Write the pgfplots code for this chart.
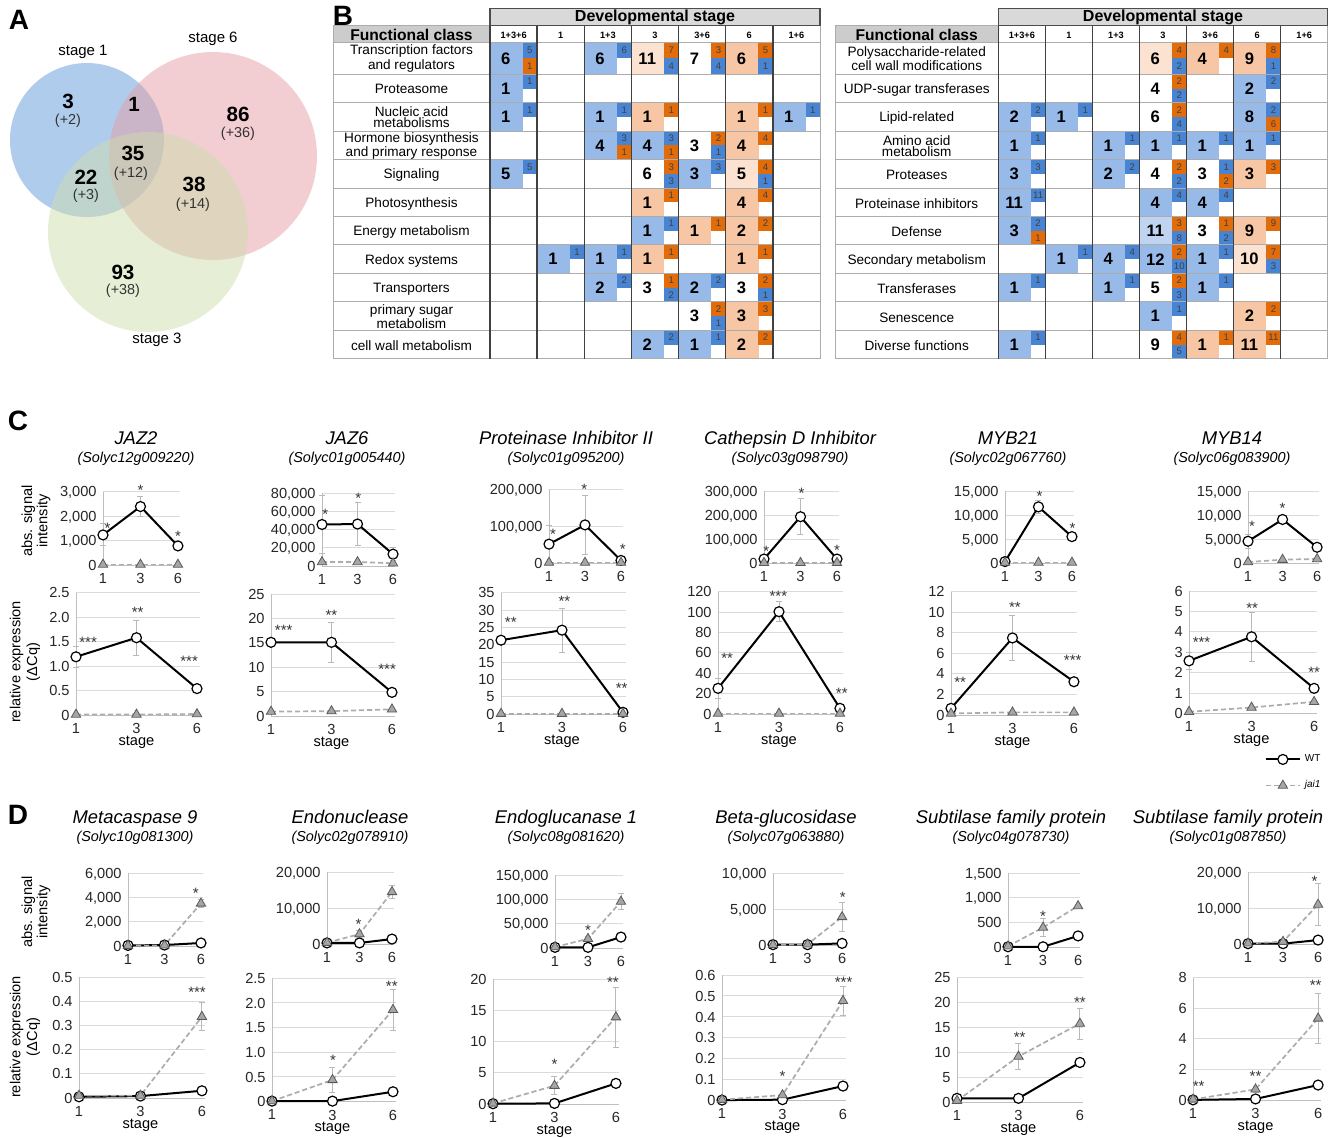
\documentclass[border=0pt]{standalone}
\usepackage{fontspec}
\setmainfont{Liberation Sans}
\usepackage{pgfplots}
\pgfplotsset{compat=1.18}
\newcommand\fsz[1]{\fontsize{#1}{#1}\selectfont}
\definecolor{cB}{RGB}{152,186,232}
\definecolor{cb}{RGB}{192,212,242}
\definecolor{cO}{RGB}{247,199,165}
\definecolor{cL}{RGB}{252,226,208}
\definecolor{sB}{RGB}{72,132,210}
\definecolor{sO}{RGB}{226,107,10}
\definecolor{vB}{RGB}{97,153,217}
\definecolor{vP}{RGB}{229,157,165}
\definecolor{vG}{RGB}{205,221,173}
\pgfdeclareplotmark{cellbg}{\pgfpathrectangle{\pgfpoint{0pt}{-7.11pt}}{\pgfpoint{16.4pt}{14.22pt}}\pgfusepathqfill}
\pgfdeclareplotmark{cellbgz}{\pgfpathrectangle{\pgfpoint{0pt}{-8pt}}{\pgfpoint{16.4pt}{16pt}}\pgfusepathqfill}
\pgfdeclareplotmark{sqm}{\pgfpathrectangle{\pgfpoint{0pt}{-3.555pt}}{\pgfpoint{7.2pt}{7.11pt}}\pgfusepathqfill}
\pgfdeclareplotmark{sqmz}{\pgfpathrectangle{\pgfpoint{0pt}{-4pt}}{\pgfpoint{7.2pt}{8pt}}\pgfusepathqfill}
\pgfdeclareplotmark{disc}{\pgfpathcircle{\pgfpointorigin}{\pgfplotmarksize}\pgfusepathqfill}
\pgfplotsset{
 canvas/.style={scale only axis, hide axis, clip=false, at={(0pt,0pt)}, anchor=north west,
   width=668pt, height=568.5pt, xmin=0, xmax=1336, ymin=0, ymax=1137, y dir=reverse},
 cellnum/.style={only marks, point meta=explicit symbolic, nodes near coords,
   every node near coord/.style={anchor=center, xshift=7.9pt, font=\bfseries\fsz{8.3}, text=black, inner sep=0pt}},
 sqnum/.style={only marks, point meta=explicit symbolic, nodes near coords,
   every node near coord/.style={anchor=center, xshift=3.6pt, font=\fsz{4.8}, text=black!75, inner sep=0pt}},
 mini/.style={scale only axis, clip=false, anchor=south west, xmin=0, xmax=2.05, ymin=0,
   axis lines=left, axis line style={-, gray!50, line width=0.5pt},
   ymajorgrids, grid style={gray!28, line width=0.5pt},
   xtick={0,1,2}, xticklabels={1,3,6}, major tick length=0pt, scaled y ticks=false,
   tick label style={font=\fsz{7.3}, text=black!85, inner sep=0pt, text depth=0pt},
   xticklabel style={yshift=-3.9pt}, yticklabel style={xshift=-3pt},
   /pgf/number format/assume math mode=true},
 wt/.style={black, line width=1pt, mark=*, mark size=2.5pt, mark options={fill=white, draw=black, line width=0.6pt, solid}},
 jai/.style={gray!65, line width=0.85pt, dash pattern=on 2.6pt off 1.4pt, mark=triangle*, mark size=2.7pt, mark options={fill=gray!70, draw=black!65, line width=0.4pt, solid}},
 eb/.style={error bars/y dir=both, error bars/y explicit, error bars/error bar style={gray!55, line width=0.45pt, solid}, error bars/error mark options={rotate=90, mark size=1.5pt, gray!55, line width=0.45pt}},
}
\tikzset{
 ast/.style={font=\fsz{7.5}, text=black!80, inner sep=0pt, yshift=-1.6pt},
 stg/.style={font=\fsz{7.3}, yshift=-13.5pt, inner sep=0pt},
 ttl/.style={font=\itshape\fsz{9.2}, inner sep=0pt, anchor=base},
 sub/.style={font=\itshape\fsz{7.2}, inner sep=0pt, anchor=base},
 rl/.style={align=center, font=\fontsize{6.8}{5.6}\selectfont, inner sep=0pt},
 colh/.style={font=\bfseries\fsz{4.6}, inner sep=0pt},
 vn/.style={font=\bfseries\fsz{10.3}, inner sep=0pt},
 vp/.style={font=\fsz{7.2}, text=black!80, inner sep=0pt},
 pl/.style={font=\bfseries\fsz{14}, inner sep=0pt},
}
\begin{document}
\begin{tikzpicture}
\useasboundingbox (0pt,0pt) rectangle (668pt,-568.5pt);
% ===== layer 1: areas =====
\begin{axis}[canvas]
\addplot[only marks, mark=disc, mark size=38.5pt, color=vB, fill opacity=0.5] coordinates {(87,140)};
\addplot[only marks, mark=disc, mark size=52pt, color=vP, fill opacity=0.5] coordinates {(213,156)};
\addplot[only marks, mark=disc, mark size=50pt, color=vG, fill opacity=0.5] coordinates {(148,232)};
\fill[gray!30] (axis cs:490,8.3) rectangle (axis cs:820,25.7);
\fill[gray!40] (axis cs:333,25.7) rectangle (axis cs:490,42.3);
\fill[gray!30] (axis cs:998.3,8.3) rectangle (axis cs:1327.7,25.7);
\fill[gray!40] (axis cs:835,25.7) rectangle (axis cs:998.3,42.3);
% left table cells
\addplot[cellnum, mark=cellbgz, color=cB] coordinates {(490,58.3)[6] (584.3,58.3)[6]};
\addplot[cellnum, mark=cellbgz, color=cL] coordinates {(631.4,58.3)[11]};
\addplot[cellnum, mark=cellbgz, color=cO] coordinates {(725.7,58.3)[6]};
\addplot[cellnum, mark=cellbgz, color=white] coordinates {(678.6,58.3)[7]};
\addplot[cellnum, mark=cellbg, color=cB] coordinates {(490,88.5)[1] (490,117)[1] (584.3,117)[1] (772.8,117)[1] (584.3,145.4)[4] (631.4,145.4)[4] (490,173.8)[5] (678.6,173.8)[3] (631.4,230.7)[1] (537.1,259.2)[1] (584.3,259.2)[1] (584.3,287.6)[2] (678.6,287.6)[2] (631.4,344.5)[2] (678.6,344.5)[1]};
\addplot[cellnum, mark=cellbg, color=cO] coordinates {(631.4,117)[1] (725.7,117)[1] (725.7,145.4)[4] (631.4,202.3)[1] (725.7,202.3)[4] (678.6,230.7)[1] (725.7,230.7)[2] (631.4,259.2)[1] (725.7,259.2)[1] (725.7,316)[3] (725.7,344.5)[2]};
\addplot[cellnum, mark=cellbg, color=cL] coordinates {(725.7,173.8)[5]};
\addplot[cellnum, mark=cellbg, color=white] coordinates {(678.6,145.4)[3] (631.4,173.8)[6] (631.4,287.6)[3] (725.7,287.6)[3] (678.6,316)[3]};
\addplot[sqnum, mark=sqmz, color=sB] coordinates {(522.7,50.3)[5] (617.0,50.3)[6] (664.1,66.3)[4] (711.3,66.3)[4] (758.4,66.3)[1]};
\addplot[sqnum, mark=sqmz, color=sO] coordinates {(664.1,50.3)[7] (711.3,50.3)[3] (758.4,50.3)[5] (522.7,66.3)[1]};
\addplot[sqnum, mark=sqm, color=sB] coordinates {(522.7,81.4)[1] (522.7,109.9)[1] (617.0,109.9)[1] (805.5,109.9)[1] (617.0,138.3)[3] (664.1,138.3)[3] (711.3,152.5)[1] (522.7,166.8)[5] (664.1,180.9)[3] (711.3,166.8)[3] (758.4,180.9)[1] (664.1,223.6)[1] (569.8,252.1)[1] (617.0,252.1)[1] (617.0,280.5)[2] (664.1,294.7)[2] (711.3,280.5)[2] (758.4,294.7)[1] (711.3,323.1)[1] (664.1,337.4)[2] (711.3,337.4)[1]};
\addplot[sqnum, mark=sqm, color=sO] coordinates {(664.1,109.9)[1] (758.4,109.9)[1] (617.0,152.5)[1] (664.1,152.5)[1] (711.3,138.3)[2] (758.4,138.3)[4] (664.1,166.8)[3] (758.4,166.8)[4] (664.1,195.2)[1] (758.4,195.2)[4] (711.3,223.6)[1] (758.4,223.6)[2] (664.1,252.1)[1] (758.4,252.1)[1] (664.1,280.5)[1] (758.4,280.5)[2] (711.3,309.0)[2] (758.4,309.0)[3] (758.4,337.4)[2]};
% right table cells
\addplot[cellnum, mark=cellbgz, color=cL] coordinates {(1139.5,58.3)[6]};
\addplot[cellnum, mark=cellbgz, color=cO] coordinates {(1186.5,58.3)[4] (1233.6,58.3)[9]};
\addplot[cellnum, mark=cellbg, color=cB] coordinates {(1233.6,88.5)[2] (998.3,117)[2] (1045.4,117)[1] (1233.6,117)[8] (998.3,145.4)[1] (1092.4,145.4)[1] (1139.5,145.4)[1] (1186.5,145.4)[1] (1233.6,145.4)[1] (998.3,173.8)[3] (1092.4,173.8)[2] (998.3,202.3)[11] (1139.5,202.3)[4] (1186.5,202.3)[4] (998.3,230.7)[3] (1045.4,259.2)[1] (1092.4,259.2)[4] (1139.5,259.2)[12] (1186.5,259.2)[1] (998.3,287.6)[1] (1092.4,287.6)[1] (1186.5,287.6)[1] (1139.5,316)[1] (998.3,344.5)[1]};
\addplot[cellnum, mark=cellbg, color=cb] coordinates {(1139.5,230.7)[11]};
\addplot[cellnum, mark=cellbg, color=cO] coordinates {(1233.6,173.8)[3] (1233.6,230.7)[9] (1233.6,316)[2] (1186.5,344.5)[1] (1233.6,344.5)[11]};
\addplot[cellnum, mark=cellbg, color=cL] coordinates {(1233.6,259.2)[10]};
\addplot[cellnum, mark=cellbg, color=white] coordinates {(1139.5,88.5)[4] (1139.5,117)[6] (1139.5,173.8)[4] (1186.5,173.8)[3] (1186.5,230.7)[3] (1139.5,287.6)[5] (1139.5,344.5)[9]};
\addplot[sqnum, mark=sqmz, color=sO] coordinates {(1172.1,50.3)[4] (1219.1,50.3)[4] (1266.2,50.3)[8]};
\addplot[sqnum, mark=sqmz, color=sB] coordinates {(1172.1,66.3)[2] (1266.2,66.3)[1]};
\addplot[sqnum, mark=sqm, color=sB] coordinates {(1172.1,95.6)[2] (1266.2,81.4)[2] (1030.9,109.9)[2] (1078.0,109.9)[1] (1172.1,124.1)[4] (1266.2,109.9)[2] (1030.9,138.3)[1] (1125.0,138.3)[1] (1172.1,138.3)[1] (1219.1,138.3)[1] (1266.2,138.3)[1] (1030.9,166.8)[3] (1125.0,166.8)[2] (1172.1,180.9)[2] (1219.1,166.8)[1] (1030.9,195.2)[11] (1172.1,195.2)[4] (1219.1,195.2)[4] (1030.9,223.6)[2] (1172.1,237.8)[8] (1219.1,237.8)[2] (1078.0,252.1)[1] (1125.0,252.1)[4] (1172.1,266.3)[10] (1219.1,252.1)[1] (1266.2,266.3)[3] (1030.9,280.5)[1] (1125.0,280.5)[1] (1172.1,294.7)[3] (1219.1,280.5)[1] (1172.1,309.0)[1] (1030.9,337.4)[1] (1172.1,351.6)[5]};
\addplot[sqnum, mark=sqm, color=sO] coordinates {(1172.1,81.4)[2] (1172.1,109.9)[2] (1266.2,124.1)[6] (1172.1,166.8)[2] (1219.1,180.9)[2] (1266.2,166.8)[3] (1030.9,237.8)[1] (1172.1,223.6)[3] (1219.1,223.6)[1] (1266.2,223.6)[9] (1172.1,252.1)[2] (1266.2,252.1)[7] (1172.1,280.5)[2] (1266.2,309.0)[2] (1172.1,337.4)[4] (1219.1,337.4)[1] (1266.2,337.4)[11]};
\end{axis}
% ===== layer 2: lines and texts =====
\begin{axis}[canvas]
\pgfplotsinvokeforeach{25.7,42.3,74.3,102.74,131.18,159.62,188.06,216.5,244.94,273.38,301.82,330.26,358.7}{
  \draw[gray!65, line width=0.5pt] (axis cs:333,#1) -- (axis cs:820,#1);
  \draw[gray!65, line width=0.5pt] (axis cs:835,#1) -- (axis cs:1327.7,#1);}
\draw[gray!65, line width=0.5pt] (axis cs:333,25.7) -- (axis cs:333,358.7);
\draw[gray!65, line width=0.5pt] (axis cs:820,25.7) -- (axis cs:820,358.7);
\draw[gray!65, line width=0.5pt] (axis cs:835,25.7) -- (axis cs:835,358.7);
\draw[gray!65, line width=0.5pt] (axis cs:1327.7,25.7) -- (axis cs:1327.7,358.7);
\pgfplotsinvokeforeach{490,537.14,584.28,631.42,678.56,725.7,772.84}{
  \draw[black!75, line width=0.75pt] (axis cs:#1,25.7) -- (axis cs:#1,358.7);}
\pgfplotsinvokeforeach{998.3,1045.36,1092.42,1139.48,1186.54,1233.6,1280.66}{
  \draw[black!75, line width=0.75pt] (axis cs:#1,25.7) -- (axis cs:#1,358.7);}
\draw[black!70, line width=0.6pt] (axis cs:490,8.3) rectangle (axis cs:820,25.7);
\draw[black!70, line width=0.6pt] (axis cs:998.3,8.3) rectangle (axis cs:1327.7,25.7);
\node[font=\bfseries\fsz{8}] at (axis cs:655,17) {Developmental stage};
\node[font=\bfseries\fsz{8}] at (axis cs:1163,17) {Developmental stage};
\node[font=\bfseries\fsz{7.8}] at (axis cs:411.5,34.5) {Functional class};
\node[font=\bfseries\fsz{7.8}] at (axis cs:916.7,34.5) {Functional class};
\node[colh] at (axis cs:513.57,35.5) {1+3+6};
\node[colh] at (axis cs:560.71,35.5) {1};
\node[colh] at (axis cs:607.85,35.5) {1+3};
\node[colh] at (axis cs:654.99,35.5) {3};
\node[colh] at (axis cs:702.13,35.5) {3+6};
\node[colh] at (axis cs:749.27,35.5) {6};
\node[colh] at (axis cs:796.41,35.5) {1+6};
\node[colh] at (axis cs:1021.83,35.5) {1+3+6};
\node[colh] at (axis cs:1068.89,35.5) {1};
\node[colh] at (axis cs:1115.95,35.5) {1+3};
\node[colh] at (axis cs:1163.01,35.5) {3};
\node[colh] at (axis cs:1210.07,35.5) {3+6};
\node[colh] at (axis cs:1257.13,35.5) {6};
\node[colh] at (axis cs:1304.19,35.5) {1+6};
\node[rl] at (axis cs:411.5,58.5) {Transcription factors\\and regulators};
\node[rl] at (axis cs:411.5,89) {Proteasome};
\node[rl] at (axis cs:411.5,117.5) {Nucleic acid\\metabolisms};
\node[rl] at (axis cs:411.5,146) {Hormone biosynthesis\\and primary response};
\node[rl] at (axis cs:411.5,175) {Signaling};
\node[rl] at (axis cs:411.5,203.5) {Photosynthesis};
\node[rl] at (axis cs:411.5,232) {Energy metabolism};
\node[rl] at (axis cs:411.5,260.5) {Redox systems};
\node[rl] at (axis cs:411.5,289) {Transporters};
\node[rl] at (axis cs:411.5,316.5) {primary sugar\\metabolism};
\node[rl] at (axis cs:411.5,345.5) {cell wall metabolism};
\node[rl] at (axis cs:916.7,58.5) {Polysaccharide-related\\cell wall modifications};
\node[rl] at (axis cs:916.7,89.5) {UDP-sugar transferases};
\node[rl] at (axis cs:916.7,118) {Lipid-related};
\node[rl] at (axis cs:916.7,146) {Amino acid\\metabolism};
\node[rl] at (axis cs:916.7,175) {Proteases};
\node[rl] at (axis cs:916.7,203.5) {Proteinase inhibitors};
\node[rl] at (axis cs:916.7,232) {Defense};
\node[rl] at (axis cs:916.7,260.5) {Secondary metabolism};
\node[rl] at (axis cs:916.7,289) {Transferases};
\node[rl] at (axis cs:916.7,317.5) {Senescence};
\node[rl] at (axis cs:916.7,345.5) {Diverse functions};
% panel letters and Venn texts
\node[pl] at (axis cs:19,20) {A};
\node[pl] at (axis cs:343,16) {B};
\node[pl] at (axis cs:18,421) {C};
\node[pl] at (axis cs:18,815) {D};
\node[font=\fsz{7.5}] at (axis cs:83,52) {stage 1};
\node[font=\fsz{7.5}] at (axis cs:213,39) {stage 6};
\node[font=\fsz{7.5}] at (axis cs:157,340) {stage 3};
\node[vn] at (axis cs:68,101) {3};   \node[vp] at (axis cs:68,120.5) {(+2)};
\node[vn] at (axis cs:134,104) {1};
\node[vn] at (axis cs:238,114) {86}; \node[vp] at (axis cs:238,133.5) {(+36)};
\node[vn] at (axis cs:133,153) {35}; \node[vp] at (axis cs:131,173.5) {(+12)};
\node[vn] at (axis cs:86,177) {22};  \node[vp] at (axis cs:86,196) {(+3)};
\node[vn] at (axis cs:194,184) {38}; \node[vp] at (axis cs:193,204.5) {(+14)};
\node[vn] at (axis cs:123,272) {93}; \node[vp] at (axis cs:123,291) {(+38)};
% gene titles
\node[ttl] at (axis cs:136,444) {JAZ2};            \node[sub] at (axis cs:136,462) {(Solyc12g009220)};
\node[ttl] at (axis cs:347,444) {JAZ6};            \node[sub] at (axis cs:347,462) {(Solyc01g005440)};
\node[ttl] at (axis cs:566,444) {Proteinase Inhibitor II}; \node[sub] at (axis cs:566,462) {(Solyc01g095200)};
\node[ttl] at (axis cs:790,444) {Cathepsin D Inhibitor};   \node[sub] at (axis cs:790,462) {(Solyc03g098790)};
\node[ttl] at (axis cs:1008,444) {MYB21};          \node[sub] at (axis cs:1008,462) {(Solyc02g067760)};
\node[ttl] at (axis cs:1232,444) {MYB14};          \node[sub] at (axis cs:1232,462) {(Solyc06g083900)};
\node[ttl] at (axis cs:135,823.5) {Metacaspase 9};   \node[sub] at (axis cs:135,841) {(Solyc10g081300)};
\node[ttl] at (axis cs:350,823.5) {Endonuclease};    \node[sub] at (axis cs:350,841) {(Solyc02g078910)};
\node[ttl] at (axis cs:566,823.5) {Endoglucanase 1}; \node[sub] at (axis cs:566,841) {(Solyc08g081620)};
\node[ttl] at (axis cs:786,823.5) {Beta-glucosidase};\node[sub] at (axis cs:786,841) {(Solyc07g063880)};
\node[ttl] at (axis cs:1011,823.5) {Subtilase family protein}; \node[sub] at (axis cs:1011,841) {(Solyc04g078730)};
\node[ttl] at (axis cs:1228,823.5) {Subtilase family protein}; \node[sub] at (axis cs:1228,841) {(Solyc01g087850)};
\node[rotate=90, align=center, font=\fontsize{7.3}{7.6}\selectfont] at (axis cs:36,521) {abs. signal\\intensity};
\node[rotate=90, align=center, font=\fontsize{7.3}{8.4}\selectfont] at (axis cs:25,662) {relative expression\\(ΔCq)};
\node[rotate=90, align=center, font=\fontsize{7.3}{7.6}\selectfont] at (axis cs:36,912) {abs. signal\\intensity};
\node[rotate=90, align=center, font=\fontsize{7.3}{8.4}\selectfont] at (axis cs:25,1037) {relative expression\\(ΔCq)};
\end{axis}
% ================= Panel C =================
\begin{axis}[mini, at={(51.5pt,-282.5pt)}, width=38.4pt, height=36.7pt, ymax=3000, ytick={0,1000,2000,3000}, yticklabels={0,{1,000},{2,000},{3,000}}]
\addplot[wt,eb] coordinates {(0,1230)+-(0,450) (1,2390)+-(0,420) (2,780)+-(0,80)};
\addplot[jai] coordinates {(0,20)(1,20)(2,20)};
\node[ast] at (axis cs:0.12,1640) {*};
\node[ast] at (axis cs:1,3180) {*};
\node[ast] at (axis cs:2,1320) {*};
\end{axis}
\begin{axis}[mini, at={(38pt,-357.5pt)}, width=62pt, height=61.15pt, ymax=2.5, ytick={0,0.5,1,1.5,2,2.5}, yticklabels={0,0.5,1.0,1.5,2.0,2.5}]
\addplot[wt,eb] coordinates {(0,1.19)+-(0,0.22) (1,1.58)+-(0,0.36) (2,0.54)+-(0,0.03)};
\addplot[jai] coordinates {(0,0.01)(1,0.01)(2,0.02)};
\node[ast] at (axis cs:0.2,1.55) {***};
\node[ast] at (axis cs:1.02,2.16) {**};
\node[ast] at (axis cs:1.87,1.16) {***};
\node[stg] at (axis cs:1,0) {stage};
\end{axis}
\begin{axis}[mini, at={(161pt,-283pt)}, width=36.4pt, height=36.5pt, ymax=80000, ytick={0,20000,40000,60000,80000}, yticklabels={0,{20,000},{40,000},{60,000},{80,000}}]
\addplot[wt,eb] coordinates {(0,45500)+-(0,32000) (1,46000)+-(0,24000) (2,13000)+-(0,7000)};
\addplot[jai] coordinates {(0,4400)(1,4400)(2,3000)};
\node[ast] at (axis cs:0.09,59700) {*};
\node[ast] at (axis cs:1.02,78000) {*};
\end{axis}
\begin{axis}[mini, at={(135.5pt,-358pt)}, width=62pt, height=61pt, ymax=25, ytick={0,5,10,15,20,25}]
\addplot[wt,eb] coordinates {(0,15.1)+-(0,0) (1,15.1)+-(0,4.1) (2,4.85)+-(0,0.3)};
\addplot[jai] coordinates {(0,0.9)(1,1.0)(2,1.37)};
\node[ast] at (axis cs:0.21,18.3) {***};
\node[ast] at (axis cs:1.0,21.2) {**};
\node[ast] at (axis cs:1.92,10.3) {***};
\node[stg] at (axis cs:1,0) {stage};
\end{axis}
\begin{axis}[mini, at={(274.5pt,-281.5pt)}, width=36.9pt, height=37pt, ymax=200000, ytick={0,100000,200000}, yticklabels={0,{100,000},{200,000}}]
\addplot[wt,eb] coordinates {(0,51000)+-(0,50000) (1,103000)+-(0,80000) (2,7000)+-(0,3000)};
\addplot[jai] coordinates {(0,1000)(1,1000)(2,1000)};
\node[ast] at (axis cs:0.11,87000) {*};
\node[ast] at (axis cs:0.98,208000) {*};
\node[ast] at (axis cs:2.05,45000) {*};
\end{axis}
\begin{axis}[mini, at={(250.5pt,-357pt)}, width=62.5pt, height=60.65pt, ymax=35, ytick={0,5,10,15,20,25,30,35}]
\addplot[wt,eb] coordinates {(0,21.3)+-(0,0) (1,24.2)+-(0,6.3) (2,0.5)+-(0,0)};
\addplot[jai] coordinates {(0,0.1)(1,0.1)(2,0.1)};
\node[ast] at (axis cs:0.16,27.4) {**};
\node[ast] at (axis cs:1.04,33.4) {**};
\node[ast] at (axis cs:1.98,8.4) {**};
\node[stg] at (axis cs:1,0) {stage};
\end{axis}
\begin{axis}[mini, at={(382pt,-281.5pt)}, width=37.4pt, height=36pt, ymax=300000, ytick={0,100000,200000,300000}, yticklabels={0,{100,000},{200,000},{300,000}}]
\addplot[wt,eb] coordinates {(0,16500)+-(0,5000) (1,193000)+-(0,74000) (2,16500)+-(0,5000)};
\addplot[jai] coordinates {(0,1000)(1,1000)(2,1000)};
\node[ast] at (axis cs:0.06,62000) {*};
\node[ast] at (axis cs:1.03,305000) {*};
\node[ast] at (axis cs:2.0,64700) {*};
\end{axis}
\begin{axis}[mini, at={(359pt,-357pt)}, width=62.5pt, height=61.15pt, ymax=120, ytick={0,20,40,60,80,100,120}]
\addplot[wt,eb] coordinates {(0,25.2)+-(0,10) (1,100.4)+-(0,10) (2,5.6)+-(0,2)};
\addplot[jai] coordinates {(0,0.5)(1,0.5)(2,0.5)};
\node[ast] at (axis cs:0.15,57.9) {**};
\node[ast] at (axis cs:0.99,119) {***};
\node[ast] at (axis cs:2.03,23.5) {**};
\node[stg] at (axis cs:1,0) {stage};
\end{axis}
\begin{axis}[mini, at={(502.5pt,-281.5pt)}, width=34.3pt, height=36pt, ymax=15000, ytick={0,5000,10000,15000}, yticklabels={0,{5,000},{10,000},{15,000}}]
\addplot[wt,eb] coordinates {(0,300)+-(0,0) (1,11700)+-(0,1300) (2,5500)+-(0,400)};
\addplot[jai] coordinates {(0,100)(1,100)(2,100)};
\node[ast] at (axis cs:1.03,14650) {*};
\node[ast] at (axis cs:2.02,7900) {*};
\end{axis}
\begin{axis}[mini, at={(475.5pt,-357.5pt)}, width=63pt, height=61.65pt, ymax=12, ytick={0,2,4,6,8,10,12}]
\addplot[wt,eb] coordinates {(0,0.65)+-(0,0) (1,7.5)+-(0,2.2) (2,3.24)+-(0,0)};
\addplot[jai] coordinates {(0,0.15)(1,0.26)(2,0.26)};
\node[ast] at (axis cs:0.15,3.47) {**};
\node[ast] at (axis cs:1.04,10.8) {**};
\node[ast] at (axis cs:1.98,5.6) {***};
\node[stg] at (axis cs:1,0) {stage};
\end{axis}
\begin{axis}[mini, at={(624pt,-281.5pt)}, width=35.4pt, height=36pt, ymax=15000, ytick={0,5000,10000,15000}, yticklabels={0,{5,000},{10,000},{15,000}}]
\addplot[wt,eb] coordinates {(0,4535)+-(0,1500) (1,9070)+-(0,300) (2,3280)+-(0,200)};
\addplot[jai] coordinates {(0,200)(1,700)(2,840)};
\node[ast] at (axis cs:0.12,8370) {*};
\node[ast] at (axis cs:1.0,12000) {*};
\end{axis}
\begin{axis}[mini, at={(594.5pt,-356.7pt)}, width=64.1pt, height=61.15pt, ymax=6, ytick={0,1,2,3,4,5,6},
  legend cell align=left,
  legend style={draw=none, fill=none, font=\fsz{5}, at={(1.06,-0.30)}, anchor=north east, row sep=4pt, inner sep=0pt}]
\addplot[wt,eb] coordinates {(0,2.58)+-(0,0.4) (1,3.76)+-(0,1.2) (2,1.23)+-(0,0)};
\addlegendentry{WT}
\addplot[jai] coordinates {(0,0.08)(1,0.29)(2,0.57)};
\addlegendentry{\textit{jai1}}
\node[ast] at (axis cs:0.2,3.63) {***};
\node[ast] at (axis cs:1.01,5.31) {**};
\node[ast] at (axis cs:2.0,2.16) {**};
\node[stg] at (axis cs:1,0) {stage};
\end{axis}
% ================= Panel D =================
\begin{axis}[mini, at={(64pt,-473pt)}, width=37.4pt, height=36.5pt, ymax=6000, ytick={0,2000,4000,6000}, yticklabels={0,{2,000},{4,000},{6,000}}]
\addplot[wt] coordinates {(0,50)(1,80)(2,250)};
\addplot[jai,eb] coordinates {(0,30)+-(0,0) (1,60)+-(0,0) (2,3500)+-(0,300)};
\node[ast] at (axis cs:1.86,4560) {*};
\end{axis}
\begin{axis}[mini, at={(39.5pt,-549pt)}, width=63pt, height=60.5pt, ymax=0.5, ytick={0,0.1,0.2,0.3,0.4,0.5}, yticklabels={0,0.1,0.2,0.3,0.4,0.5}]
\addplot[wt] coordinates {(0,0.005)(1,0.008)(2,0.03)};
\addplot[jai,eb] coordinates {(0,0.01)+-(0,0) (1,0.01)+-(0,0) (2,0.336)+-(0,0.057)};
\node[ast] at (axis cs:1.92,0.448) {***};
\node[stg] at (axis cs:1,0) {stage};
\end{axis}
\begin{axis}[mini, at={(163.5pt,-472pt)}, width=33.3pt, height=36pt, ymax=20000, ytick={0,10000,20000}, yticklabels={0,{10,000},{20,000}}]
\addplot[wt] coordinates {(0,300)(1,300)(2,1380)};
\addplot[jai,eb] coordinates {(0,370)+-(0,0) (1,2760)+-(0,1000) (2,14470)+-(0,1900)};
\node[ast] at (axis cs:0.97,6360) {*};
\end{axis}
\begin{axis}[mini, at={(136pt,-550.8pt)}, width=62pt, height=61.7pt, ymax=2.5, ytick={0,0.5,1,1.5,2,2.5}, yticklabels={0,0.5,1.0,1.5,2.0,2.5}]
\addplot[wt] coordinates {(0,0.01)(1,0.01)(2,0.2)};
\addplot[jai,eb] coordinates {(0,0.01)+-(0,0) (1,0.44)+-(0,0.25) (2,1.86)+-(0,0.42)};
\node[ast] at (axis cs:1.01,0.91) {*};
\node[ast] at (axis cs:1.98,2.41) {**};
\node[stg] at (axis cs:1,0) {stage};
\end{axis}
\begin{axis}[mini, at={(277.5pt,-474pt)}, width=33.8pt, height=36.5pt, ymax=150000, ytick={0,50000,100000,150000}, yticklabels={0,{50,000},{100,000},{150,000}}]
\addplot[wt] coordinates {(0,1400)(1,1400)(2,22500)};
\addplot[jai,eb] coordinates {(0,2000)+-(0,0) (1,19000)+-(0,5000) (2,95500)+-(0,16000)};
\node[ast] at (axis cs:1.0,43000) {*};
\end{axis}
\begin{axis}[mini, at={(246.5pt,-552pt)}, width=63pt, height=62.5pt, ymax=20, ytick={0,5,10,15,20}]
\addplot[wt] coordinates {(0,0.05)(1,0.1)(2,3.3)};
\addplot[jai,eb] coordinates {(0,0.1)+-(0,0) (1,2.94)+-(0,1.4) (2,13.9)+-(0,4.8)};
\node[ast] at (axis cs:1.0,6.8) {*};
\node[ast] at (axis cs:1.95,20) {**};
\node[stg] at (axis cs:1,0) {stage};
\end{axis}
\begin{axis}[mini, at={(386.5pt,-472.5pt)}, width=35.4pt, height=36pt, ymax=10000, ytick={0,5000,10000}, yticklabels={0,{5,000},{10,000}}]
\addplot[wt] coordinates {(0,50)(1,50)(2,230)};
\addplot[jai,eb] coordinates {(0,30)+-(0,0) (1,90)+-(0,0) (2,3900)+-(0,2000)};
\node[ast] at (axis cs:2.02,7050) {*};
\end{axis}
\begin{axis}[mini, at={(361pt,-550.35pt)}, width=62pt, height=62.85pt, ymax=0.6, ytick={0,0.1,0.2,0.3,0.4,0.5,0.6}, yticklabels={0,0.1,0.2,0.3,0.4,0.5,0.6}]
\addplot[wt] coordinates {(0,0.003)(1,0.005)(2,0.07)};
\addplot[jai,eb] coordinates {(0,0.005)+-(0,0) (1,0.027)+-(0,0) (2,0.477)+-(0,0.07)};
\node[ast] at (axis cs:1.0,0.13) {*};
\node[ast] at (axis cs:2.01,0.58) {***};
\node[stg] at (axis cs:1,0) {stage};
\end{axis}
\begin{axis}[mini, at={(504pt,-473.5pt)}, width=35.9pt, height=37pt, ymax=1500, ytick={0,500,1000,1500}, yticklabels={0,500,{1,000},{1,500}}]
\addplot[wt] coordinates {(0,5)(1,5)(2,225)};
\addplot[jai,eb] coordinates {(0,15)+-(0,0) (1,395)+-(0,180) (2,832)+-(0,0)};
\node[ast] at (axis cs:1.0,680) {*};
\end{axis}
\begin{axis}[mini, at={(478.5pt,-551.15pt)}, width=63pt, height=62.3pt, ymax=25, ytick={0,5,10,15,20,25}]
\addplot[wt] coordinates {(0,0.8)(1,0.8)(2,8.0)};
\addplot[jai,eb] coordinates {(0,0.33)+-(0,0) (1,9.2)+-(0,2.6) (2,15.8)+-(0,3.1)};
\node[ast] at (axis cs:1.02,13.6) {**};
\node[ast] at (axis cs:2.0,20.7) {**};
\node[stg] at (axis cs:1,0) {stage};
\end{axis}
\begin{axis}[mini, at={(624pt,-472pt)}, width=35.9pt, height=36pt, ymax=20000, ytick={0,10000,20000}, yticklabels={0,{10,000},{20,000}}]
\addplot[wt] coordinates {(0,100)(1,100)(2,1100)};
\addplot[jai,eb] coordinates {(0,180)+-(0,0) (1,650)+-(0,0) (2,10970)+-(0,5850)};
\node[ast] at (axis cs:1.9,18430) {*};
\end{axis}
\begin{axis}[mini, at={(596.5pt,-550pt)}, width=64.1pt, height=61.15pt, ymax=8, ytick={0,2,4,6,8}]
\addplot[wt] coordinates {(0,0.01)(1,0.07)(2,0.98)};
\addplot[jai,eb] coordinates {(0,0.04)+-(0,0) (1,0.7)+-(0,0.2) (2,5.34)+-(0,1.64)};
\node[ast] at (axis cs:0.09,1.09) {**};
\node[ast] at (axis cs:1.0,1.79) {**};
\node[ast] at (axis cs:1.96,7.74) {**};
\node[stg] at (axis cs:1,0) {stage};
\end{axis}
\end{tikzpicture}
\end{document}
